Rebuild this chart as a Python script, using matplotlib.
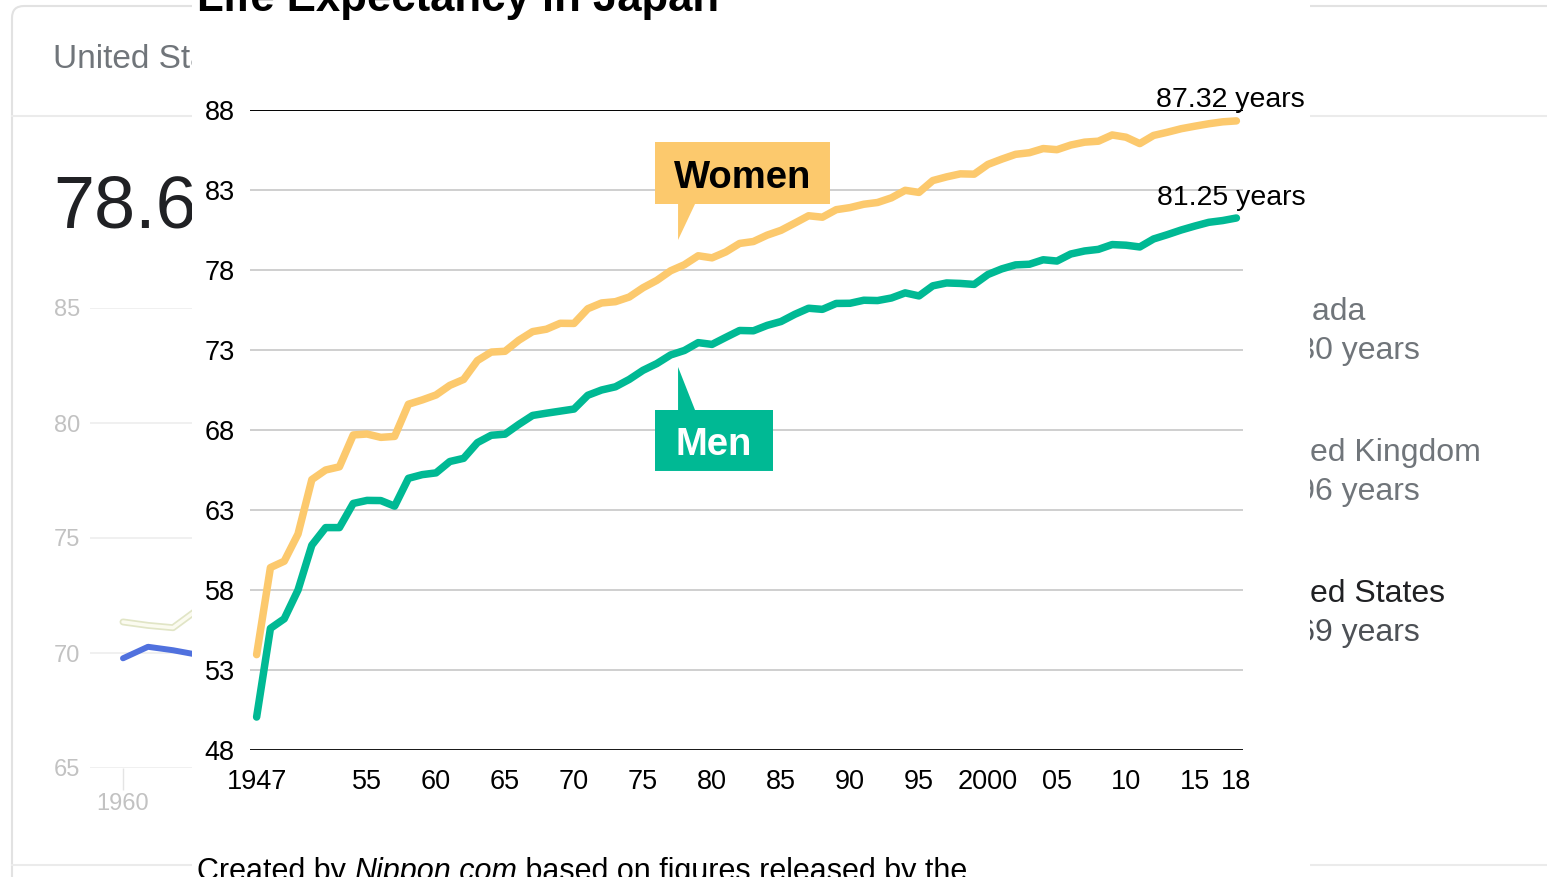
import matplotlib
matplotlib.use("Agg")
import matplotlib.pyplot as plt
import matplotlib.transforms as mtransforms
from matplotlib.patches import Rectangle, Polygon, FancyBboxPatch

plt.rcParams['font.family'] = ['Liberation Sans', 'DejaVu Sans']

# Japan life expectancy at birth, 1947-2018
years = list(range(1947, 2019))
men = [50.06, 55.60, 56.20, 58.00, 60.80, 61.90, 61.90, 63.41, 63.60, 63.59,
       63.24, 64.98, 65.21, 65.32, 66.03, 66.23, 67.21, 67.67, 67.74, 68.35,
       68.91, 69.05, 69.18, 69.31, 70.17, 70.50, 70.70, 71.16, 71.73, 72.15,
       72.69, 72.97, 73.46, 73.35, 73.79, 74.22, 74.20, 74.54, 74.78, 75.23,
       75.61, 75.54, 75.91, 75.92, 76.11, 76.09, 76.25, 76.57, 76.38, 77.01,
       77.19, 77.16, 77.10, 77.72, 78.07, 78.32, 78.36, 78.64, 78.56, 79.00,
       79.19, 79.29, 79.59, 79.55, 79.44, 79.94, 80.21, 80.50, 80.75, 80.98,
       81.09, 81.25]
women = [53.96, 59.40, 59.80, 61.50, 64.90, 65.50, 65.70, 67.69, 67.75, 67.54,
         67.60, 69.61, 69.88, 70.19, 70.79, 71.16, 72.34, 72.87, 72.92, 73.61,
         74.15, 74.30, 74.67, 74.66, 75.58, 75.94, 76.02, 76.31, 76.89, 77.35,
         77.95, 78.33, 78.89, 78.76, 79.13, 79.66, 79.78, 80.18, 80.48, 80.93,
         81.39, 81.30, 81.77, 81.90, 82.11, 82.22, 82.51, 82.98, 82.85, 83.59,
         83.82, 84.01, 83.99, 84.60, 84.93, 85.23, 85.33, 85.59, 85.52, 85.81,
         85.99, 86.05, 86.44, 86.30, 85.90, 86.41, 86.61, 86.83, 86.99, 87.14,
         87.26, 87.32]
y_ticks = [48, 53, 58, 63, 68, 73, 78, 83, 88]
x_ticks = [1947, 1955, 1960, 1965, 1970, 1975, 1980, 1985, 1990, 1995,
           2000, 2005, 2010, 2015, 2018]
x_labels = ['1947', '55', '60', '65', '70', '75', '80', '85', '90', '95',
            '2000', '05', '10', '15', '18']

# background panel (search result card behind the chart)
bg_years = [1960, 1961, 1962, 1963]
bg_us = [69.77, 70.27, 70.12, 69.92]
bg_other = [71.35, 71.2, 71.1, 71.9]
bg_ticks = [65, 70, 75, 80, 85]
side_names = ['Canada', 'United Kingdom', 'United States']
side_values = ['82.30 years', '80.96 years', '78.69 years']

WOMEN_C = '#fcc96d'
MEN_C = '#00b994'

W, H = 1547, 877
fig = plt.figure(figsize=(W / 100, H / 100), dpi=100)
# transform taking reference pixel positions (origin top-left)
T = mtransforms.Affine2D().scale(1 / W, -1 / H).translate(0, 1) + fig.transFigure


def fbox(x0, y0, x1, y1):
    return [x0 / W, 1 - y1 / H, (x1 - x0) / W, (y1 - y0) / H]


# --- background card ---
card = FancyBboxPatch((12, 6), 1600, 1000, boxstyle="round,pad=0,rounding_size=12",
                      transform=T, facecolor='white', edgecolor='#e2e2e2', lw=1.5, zorder=0.5)
fig.add_artist(card)
for yy in (116, 865):
    fig.add_artist(plt.Line2D([12, W], [yy, yy], transform=T, color='#ebebeb', lw=1.5, zorder=0.6))

fig.text(53, 60, 'United States', transform=T, fontsize=24, color='#70757a',
         va='center', zorder=1.5)
fig.text(53, 208, '78.69', transform=T, fontsize=53, color='#202124',
         va='center', zorder=1.5)

ax_g = fig.add_axes(fbox(90, 308, 1300, 768), zorder=1)
ax_g.set_xlim(1958.68, 2007.08)
ax_g.set_ylim(65, 85)
ax_g.patch.set_alpha(0)
for s in ax_g.spines.values():
    s.set_visible(False)
for v in bg_ticks:
    ax_g.axhline(v, color='#eeeeee', lw=1.2, zorder=0)
ax_g.set_yticks(bg_ticks)
ax_g.set_xticks([1960])
ax_g.tick_params(axis='y', length=0, pad=7, labelsize=17, labelcolor='#c2c2c2')
ax_g.tick_params(axis='x', length=16, width=1, color='#e4e4e4', pad=2,
                 labelsize=17, labelcolor='#c2c2c2')
ax_g.plot(bg_years, bg_other, color='#e1e5c6', lw=5, solid_capstyle='round')
ax_g.plot(bg_years, bg_other, color='#fbfbf0', lw=2.5, solid_capstyle='round')
ax_g.plot(bg_years, bg_us, color='#5071de', lw=4.3, solid_capstyle='round')

for i, (name, val) in enumerate(zip(side_names, side_values)):
    yc = 312 + i * 141
    dark = name == 'United States'
    fig.text(1253, yc, name, transform=T, fontsize=23, va='center', zorder=1.5,
             color='#202124' if dark else '#70757a')
    fig.text(1253, yc + 39, val, transform=T, fontsize=23, va='center', zorder=1.5,
             color='#4d5156' if dark else '#70757a')

# white sheet carrying the Japan chart
fig.add_artist(Rectangle((192, 0), 1118, H, transform=T, facecolor='white',
                         edgecolor='none', zorder=2))

# --- main chart ---
ax = fig.add_axes(fbox(250, 110, 1243, 750), zorder=3)
ax.patch.set_alpha(0)
ax.set_xlim(1946.52, 2018.48)
ax.set_ylim(48, 88)
for s in ax.spines.values():
    s.set_visible(False)
for v in y_ticks:
    if v == 48:
        ax.axhline(v, color='black', lw=2, zorder=1)
    elif v == 88:
        ax.axhline(v, color='black', lw=1.4, zorder=1)
    else:
        ax.axhline(v, color='#cfcfcf', lw=1.4, zorder=1)

ax.set_yticks(y_ticks)
ax.set_xticks(x_ticks)
ax.set_xticklabels(x_labels)
ax.tick_params(axis='y', length=0, pad=11, labelsize=19.5)
ax.tick_params(axis='x', length=0, pad=14, labelsize=19.5)
for lab in ax.get_yticklabels():
    lab.set_va('center_baseline')

ax.plot(years, women, color=WOMEN_C, lw=5.4, solid_capstyle='round',
        solid_joinstyle='round', zorder=3)
ax.plot(years, men, color=MEN_C, lw=5.4, solid_capstyle='round',
        solid_joinstyle='round', zorder=3)

ax.annotate(f"{women[-1]:.2f} years", xy=(years[-1], women[-1]), xytext=(-4, 15),
            textcoords='offset points', ha='center', va='center', fontsize=20.5,
            annotation_clip=False, zorder=5)
ax.annotate(f"{men[-1]:.2f} years", xy=(years[-1], men[-1]), xytext=(-4, 14.5),
            textcoords='offset points', ha='center', va='center', fontsize=20.5,
            annotation_clip=False, zorder=5)

# callout labels
women_box = [(1975.87, 86.0), (1988.55, 86.0), (1988.55, 82.125), (1978.77, 82.125),
             (1977.54, 79.875), (1977.54, 82.125), (1975.87, 82.125)]
men_box = [(1975.87, 65.44), (1984.42, 65.44), (1984.42, 69.25), (1978.77, 69.25),
           (1977.54, 71.94), (1977.54, 69.25), (1975.87, 69.25)]
ax.add_patch(Polygon(women_box, closed=True, facecolor=WOMEN_C, edgecolor='none', zorder=4))
ax.add_patch(Polygon(men_box, closed=True, facecolor=MEN_C, edgecolor='none', zorder=4))
ax.text(1982.25, 83.75, 'Women', ha='center', va='center', fontsize=27.5,
        fontweight='bold', color='black', zorder=5)
ax.text(1980.15, 67.05, 'Men', ha='center', va='center', fontsize=27.5,
        fontweight='bold', color='white', zorder=5)

# title and source line, both cut by the screenshot edge
fig.text(197, 11, 'Life Expectancy in Japan', transform=T, fontsize=31.5,
         fontweight='bold', va='baseline', zorder=5)
t1 = fig.text(197, 880, 'Created by ', transform=T, fontsize=22, va='baseline', zorder=5)
t2 = ax.annotate('Nippon.com', xy=(1, 0), xycoords=t1, ha='left', va='bottom',
                 fontsize=22, fontstyle='italic', annotation_clip=False)
ax.annotate(' based on figures released by the', xy=(1, 0), xycoords=t2,
            ha='left', va='bottom', fontsize=22, annotation_clip=False)

fig.savefig('out.png', dpi=100)
